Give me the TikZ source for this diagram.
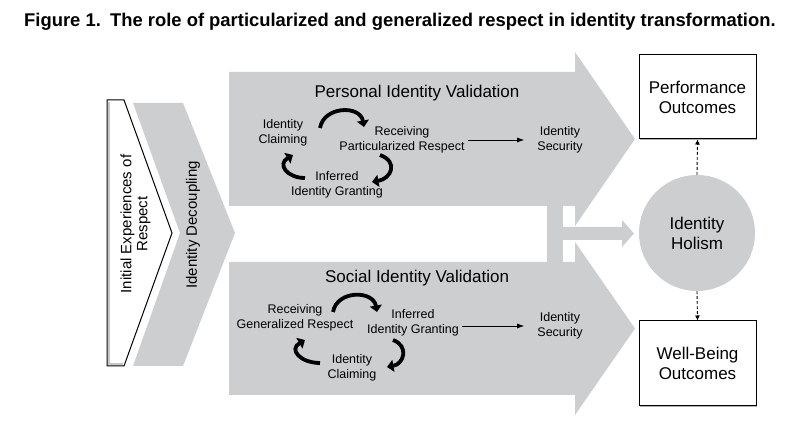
\documentclass[tikz,border=0pt]{standalone}
\usepackage{fontspec}
\setmainfont{Liberation Sans}
\usepackage{tikz}
\usetikzlibrary{calc}
\usetikzlibrary{positioning}
\usetikzlibrary{arrows.meta}
\usetikzlibrary{shadows}
\definecolor{panelgray}{RGB}{205,206,208}
\tikzstyle{colorA} = [fill=panelgray]
\tikzstyle{smalltext} = [align=center, inner sep=1pt, font=\fontsize{12.5}{15}\selectfont]
\tikzstyle{headtext} = [align=center, inner sep=1pt, font=\fontsize{17}{20}\selectfont]
\tikzstyle{sidetext} = [align=center, inner sep=1pt, rotate=90, font=\fontsize{15}{16}\selectfont]
\tikzstyle{outbox} = [draw, fill=white, line width=1pt, minimum width=117pt, minimum height=84pt, align=center, font=\fontsize{17}{20}\selectfont, drop shadow={shadow xshift=1.3pt, shadow yshift=-1.3pt, fill=gray!60, opacity=1}]
\tikzstyle{holnode} = [circle, colorA, minimum size=116pt, align=center, font=\fontsize{17}{20}\selectfont]
\tikzstyle{cyclearrow} = [line width=3.8pt, -{Triangle[length=6.5pt,width=12pt]}]
\tikzstyle{plainarrow} = [line width=0.8pt, -{Latex[length=7pt,width=5pt]}]
\tikzstyle{dasharrow} = [line width=0.9pt, dash pattern=on 3pt off 2pt, -{Latex[length=5pt,width=5pt]}]

\begin{document}
\begin{tikzpicture}[x=1pt, y=1pt]
    \useasboundingbox (0,0) rectangle (798,435);
    \node[anchor=base west, inner sep=0pt, font=\bfseries\fontsize{18.4}{22}\selectfont] (title) at (24,408) {Figure 1.\hspace{0.5em}The role of particularized and generalized respect in identity transformation.};

    % left chevrons
    \draw[fill=white, line width=1pt] (107,335) -- (124,335) -- (172,202) -- (124,69) -- (107,69) -- cycle;
    \draw[gray!45, line width=1.2pt] (109,333) -- (109,71) -- (123,71);
    \fill[colorA] (133,332) -- (183,332) -- (235,202) -- (183,69) -- (133,69) -- (180,202) -- cycle;
    \node[sidetext] (initial) at (135.5,211) {Initial Experiences of\\Respect};
    \node[sidetext] (decoupling) at (193,210) {Identity Decoupling};

    % two big arrows and the joint
    \fill[colorA] (229,363) -- (575,363) -- (575,383) -- (635,296) -- (575,209) -- (575,229) -- (229,229) -- cycle;
    \fill[colorA] (229,173) -- (575,173) -- (575,193) -- (635,106.5) -- (575,20) -- (575,40) -- (229,40) -- cycle;
    \fill[colorA] (547,232) rectangle (563,170);
    \fill[colorA] (547,208) -- (622,208) -- (622,215) -- (634,201.5) -- (622,188) -- (622,195) -- (547,195) -- cycle;

    % right column
    \node[holnode] (holism) at (697,202) {Identity\\Holism};
    \node[outbox] (perf) at (697.5,338) {Performance\\Outcomes};
    \node[outbox, minimum height=85pt] (well) at (697.5,71.5) {Well-Being\\Outcomes};
    \draw[dasharrow] (holism.north) -- (perf.south);
    \draw[dasharrow] (holism.south) -- (well.north);

    % personal identity validation
    \node[headtext] (pers_head) at (417,342) {Personal Identity Validation};
    \node[smalltext] (pers_claim) at (283,302) {Identity\\Claiming};
    \node[smalltext] (pers_recv) at (402,295) {Receiving\\Particularized Respect};
    \node[smalltext] (pers_infer) at (337,250) {Inferred\\Identity Granting};
    \node[smalltext] (pers_sec) at (560,295) {Identity\\Security};
    \draw[plainarrow, shorten <=2pt, shorten >=12pt] (pers_recv.east) -- (pers_recv.east -| pers_sec.west);
    \draw[cyclearrow] ($(pers_claim)+(37,5)$) to[out=80, in=100, looseness=1.3] ($(pers_recv)+(-38,13)$);
    \draw[cyclearrow] ($(pers_recv)+(-22,-15)$) to[out=-20, in=10, looseness=1.8] ($(pers_infer)+(35,3)$);
    \draw[cyclearrow] ($(pers_infer)+(-32,7)$) to[out=180, in=-150, looseness=1.8] ($(pers_claim)+(10,-22)$);

    % social identity validation
    \node[headtext] (soc_head) at (417,157) {Social Identity Validation};
    \node[smalltext] (soc_recv) at (295,117) {Receiving\\Generalized Respect};
    \node[smalltext] (soc_infer) at (413,112) {Inferred\\Identity Granting};
    \node[smalltext] (soc_claim) at (352,67) {Identity\\Claiming};
    \node[smalltext] (soc_sec) at (560,109) {Identity\\Security};
    \draw[plainarrow, shorten <=2pt, shorten >=12pt] (soc_infer.east |- soc_sec.west) -- (soc_sec.west);
    \draw[cyclearrow] ($(soc_recv)+(38,6)$) to[out=80, in=100, looseness=1.3] ($(soc_infer)+(-36,11)$);
    \draw[cyclearrow] ($(soc_infer)+(-20,-17)$) to[out=-20, in=10, looseness=1.6] ($(soc_claim)+(35,1)$);
    \draw[cyclearrow] ($(soc_claim)+(-32,5)$) to[out=180, in=-150, looseness=1.8] ($(soc_recv)+(10,-22)$);
\end{tikzpicture}
\end{document}
